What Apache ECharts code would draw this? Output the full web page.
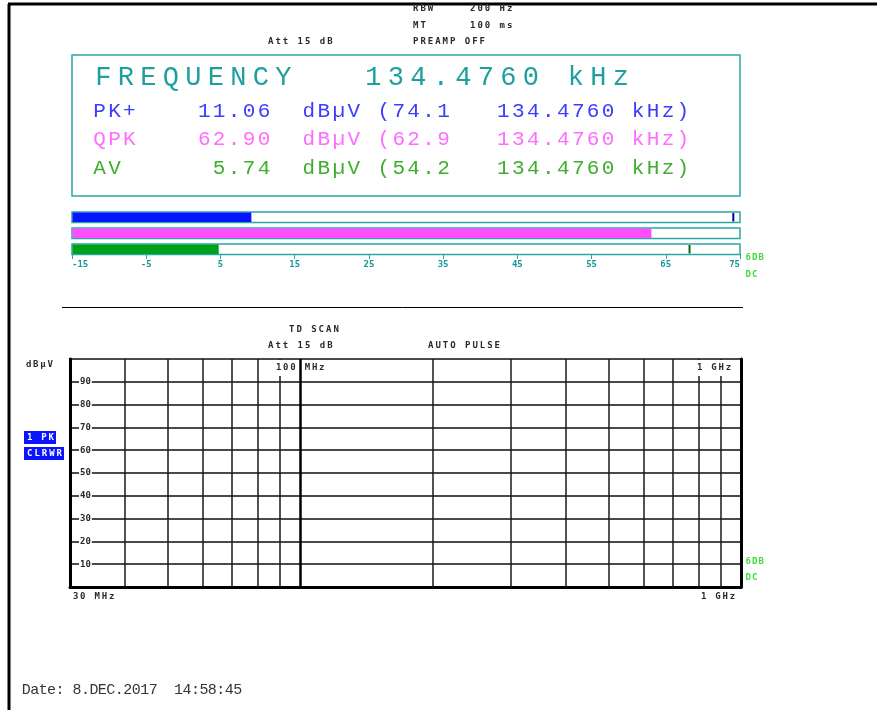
<!DOCTYPE html>
<html>
<head>
<meta charset="utf-8">
<script src="https://cdn.jsdelivr.net/npm/echarts@6/dist/echarts.min.js"></script>
<style>
  body { margin: 0; background: #fff; }
  #main { width: 877px; height: 710px; }
</style>
</head>
<body>
<div id="main"></div>
<script>
// readout values
const detectors = ['PK+', 'QPK', 'AV'];
const readings = [11.06, 62.90, 5.74];
const maxReadings = [74.1, 62.9, 54.2];
const markerFreq = '134.4760';

// bar meter (dBµV)
const meterTicks = [-15, -5, 5, 15, 25, 35, 45, 55, 65, 75];
const barLevels = [9.1, 63.0, 4.7];
const barHolds = [74.1, null, 68.2];

// scan grid
const gridFreqs = [40, 50, 60, 70, 80, 90, 100, 200, 300, 400, 500, 600, 700, 800, 900];
const freqRange = [30, 1000];
const levelRange = [0, 100];

const TEAL = '#2aa8a6';
const rowColors = ['#3c3cff', '#ff6cff', '#3fae2e'];
const barColors = ['#0516ff', '#ff4cff', '#00a018'];
const holdColors = ['#0000a0', '#ff4cff', '#006a10'];
const SMALL = 'bold 9px "DejaVu Sans Mono"';
const INK = '#2a2a2a';
const LIME = '#3ddc3d';

var chart = echarts.init(document.getElementById('main'));

// monospace text laid out one glyph per cell
function chars (x0, y, str, pitch, font, color, z) {
  var out = [];
  for (var i = 0; i < str.length; i++) {
    if (str[i] === ' ') continue;
    out.push({
      type: 'text', x: x0 + i * pitch + pitch / 2, y: y, z: z || 10, silent: true,
      style: { text: str[i], font: font, fill: color, textAlign: 'center', textVerticalAlign: 'middle', align: 'center', verticalAlign: 'middle' }
    });
  }
  return out;
}

function box (x, y, w, h, fill, stroke, lw, z) {
  return { type: 'rect', z: z || 5, silent: true, shape: { x: x, y: y, width: w, height: h },
    style: { fill: fill, stroke: stroke, lineWidth: lw || 0 } };
}

function line (x1, y1, x2, y2, color, w) {
  return { type: 'line', z: 5, silent: true, shape: { x1: x1, y1: y1, x2: x2, y2: y2 },
    style: { stroke: color, lineWidth: w } };
}

var g = [];
// page frame
g.push(line(8, 4, 877, 4, '#000', 3));
g.push(line(9, 4, 9, 710, '#000', 3));

// header
g = g.concat(chars(412, 9, 'RBW', 7.4, SMALL, INK));
g = g.concat(chars(469, 9, '200 Hz', 7.4, SMALL, INK));
g = g.concat(chars(412, 26, 'MT', 7.4, SMALL, INK));
g = g.concat(chars(469, 26, '100 ms', 7.4, SMALL, INK));
g = g.concat(chars(267, 42, 'Att 15 dB', 7.4, SMALL, INK));
g = g.concat(chars(412, 42, 'PREAMP OFF', 7.4, SMALL, INK));

// readout panel
g.push(box(72, 55, 668, 141, 'none', TEAL, 1.5));
g = g.concat(chars(92, 78, 'FREQUENCY   ' + markerFreq + ' kHz', 22.5, '27px "Liberation Mono"', '#1fa09e'));
detectors.forEach(function (d, i) {
  var s = d.padEnd(7) + readings[i].toFixed(2).padStart(5) + '  dBµV (' + maxReadings[i].toFixed(1) + '   ' + markerFreq + ' kHz)';
  g = g.concat(chars(92, 111 + i * 28.5, s, 14.96, '21px "Liberation Mono"', rowColors[i]));
});
g = g.concat(chars(745, 258, '6DB', 6.5, SMALL, LIME));
g = g.concat(chars(745, 275, 'DC', 6.5, SMALL, LIME));

g.push(line(62, 307.5, 743, 307.5, '#000', 1));

// scan header
g = g.concat(chars(288, 330, 'TD SCAN', 7.4, SMALL, INK));
g = g.concat(chars(267, 346, 'Att 15 dB', 7.4, SMALL, INK));
g = g.concat(chars(427, 346, 'AUTO PULSE', 7.4, SMALL, INK));
g = g.concat(chars(25, 365, 'dBµV', 7.2, SMALL, INK));
g.push(box(24, 431, 32, 13, '#0a14ff', null, 0));
g = g.concat(chars(26, 437.5, '1 PK', 7.2, SMALL, '#fff'));
g.push(box(24, 447, 40, 13, '#0a14ff', null, 0));
g = g.concat(chars(26, 453.5, 'CLRWR', 7.4, SMALL, '#fff'));
// label patches on the grid (100 MHz line stays visible between them)
g.push(box(273, 360, 25, 16, '#fff', null, 0, 20));
g.push(box(302, 360, 28, 14, '#fff', null, 0, 20));
g = g.concat(chars(275, 367.5, '100 MHz', 7.2, SMALL, INK, 21));
g.push(box(694, 360, 44, 16, '#fff', null, 0, 20));
g = g.concat(chars(696, 367.5, '1 GHz', 7.2, SMALL, INK, 21));
g = g.concat(chars(72, 597, '30 MHz', 7.2, SMALL, INK));
g = g.concat(chars(700, 597, '1 GHz', 7.2, SMALL, INK));
g = g.concat(chars(745, 562, '6DB', 6.5, SMALL, LIME));
g = g.concat(chars(745, 578, 'DC', 6.5, SMALL, LIME));

g = g.concat(chars(22, 690, 'Date: 8.DEC.2017  14:58:45', 8.46, '15px "Liberation Mono"', '#3b3330'));

function renderMeter (params, api) {
  var row = api.value(0);
  var lo = api.coord([meterTicks[0], row]);
  var hi = api.coord([meterTicks[meterTicks.length - 1], row]);
  var lv = api.coord([api.value(1), row]);
  var y = lo[1] - 2, h = 10.5;
  var kids = [
    { type: 'rect', shape: { x: lo[0], y: y, width: hi[0] - lo[0], height: h }, style: { fill: '#fff', stroke: TEAL, lineWidth: 1.5 } },
    { type: 'rect', shape: { x: lo[0] + 0.5, y: y + 0.5, width: lv[0] - lo[0], height: h - 1 }, style: { fill: barColors[row] } }
  ];
  var hold = api.value(2);
  if (!isNaN(hold)) {
    var hp = api.coord([hold, row]);
    kids.push({ type: 'line', shape: { x1: hp[0], y1: y + 1, x2: hp[0], y2: y + h - 1 }, style: { stroke: holdColors[row], lineWidth: 2 } });
  }
  return { type: 'group', children: kids };
}

var option = {
  animation: false,
  backgroundColor: '#fff',
  graphic: { elements: g },
  grid: [
    { left: 72, right: 137, top: 206, height: 48 },
    { left: 70, right: 136, top: 359, bottom: 123, show: true, borderColor: '#000', borderWidth: 2 }
  ],
  xAxis: [
    {
      gridIndex: 0, type: 'value', min: meterTicks[0], max: meterTicks[meterTicks.length - 1],
      axisLine: { show: true, lineStyle: { color: TEAL, width: 1 } },
      axisTick: { show: true, length: 5, customValues: meterTicks, lineStyle: { color: TEAL } },
      axisLabel: {
        customValues: meterTicks, margin: 6, color: '#1a9896', fontSize: 9, fontWeight: 'bold',
        fontFamily: 'DejaVu Sans Mono', alignMinLabel: 'left', alignMaxLabel: 'right'
      },
      splitLine: { show: false }
    },
    {
      gridIndex: 1, type: 'log', logBase: 10, min: freqRange[0], max: freqRange[1],
      axisLine: { show: true, onZero: false, lineStyle: { color: '#000', width: 3 } },
      axisTick: { show: false }, axisLabel: { show: false }, splitLine: { show: false }
    }
  ],
  yAxis: [
    { gridIndex: 0, type: 'category', data: detectors, inverse: true, show: false },
    {
      gridIndex: 1, type: 'value', min: levelRange[0], max: levelRange[1], interval: 10,
      axisLine: { show: true, lineStyle: { color: '#000', width: 3 } },
      axisTick: { show: false },
      axisLabel: {
        inside: true, margin: 9, color: INK, fontSize: 9, fontWeight: 'bold', fontFamily: 'DejaVu Sans Mono',
        backgroundColor: '#fff', padding: [0, 1, 4, 1], showMinLabel: false, showMaxLabel: false
      },
      splitLine: { show: true, lineStyle: { color: '#4a4a4a', width: 2 } }
    },
    {
      gridIndex: 1, type: 'value', position: 'right', min: levelRange[0], max: levelRange[1],
      axisLine: { show: true, lineStyle: { color: '#000', width: 3 } },
      axisTick: { show: false }, axisLabel: { show: false }, splitLine: { show: false }
    }
  ],
  series: [
    {
      type: 'custom', xAxisIndex: 0, yAxisIndex: 0, silent: true,
      encode: { x: 1, y: 0 },
      renderItem: renderMeter,
      data: barLevels.map(function (v, i) { return [i, v, barHolds[i] == null ? NaN : barHolds[i]]; })
    },
    {
      type: 'line', xAxisIndex: 1, yAxisIndex: 1, data: [], silent: true,
      markLine: {
        silent: true, symbol: 'none', label: { show: false }, animation: false,
        lineStyle: { color: '#1a1a1a', width: 1.5, type: 'solid' },
        emphasis: { disabled: true },
        data: gridFreqs.map(function (f) {
          var item = { xAxis: f };
          if (f === 100) item.lineStyle = { color: '#000', width: 2.5, type: 'solid' };
          return item;
        })
      }
    }
  ]
};

chart.setOption(option);
</script>
</body>
</html>
